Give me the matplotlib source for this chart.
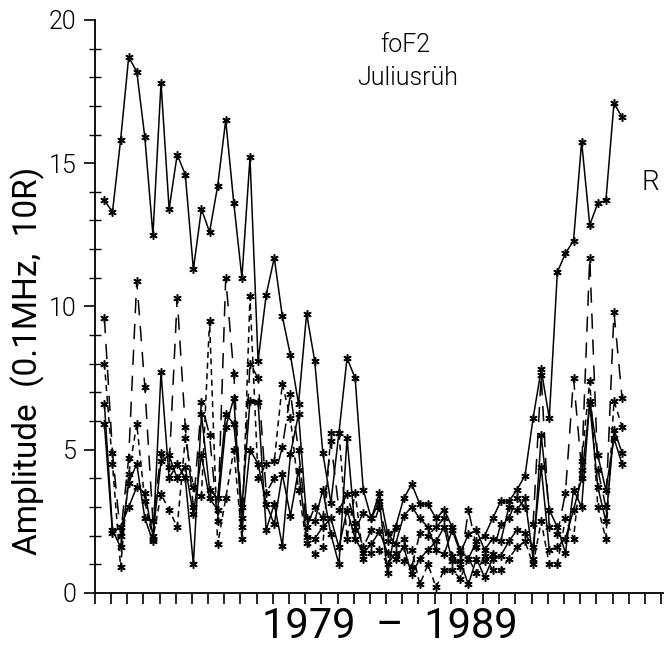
import numpy as np
import matplotlib
matplotlib.use('Agg')
import matplotlib.pyplot as plt

# sunspot number R (in units of 10R), every 2 months 1979-1989
r_vals = [13.7, 13.3, 15.8, 18.7, 18.2, 15.9, 12.5, 17.8, 13.4, 15.3, 14.6, 11.3, 13.4, 12.6, 14.2, 16.5,
          13.6, 11.0, 15.2, 8.1, 10.4, 11.7, 9.65, 8.3, 6.6, 9.75, 8.1, 4.9, 3.15, 5.6, 8.2, 7.5,
          3.6, 2.6, 3.2, 0.7, 2.3, 3.3, 3.8, 3.1, 3.1, 2.6, 2.9, 2.3, 1.5, 1.2, 1.8, 2.0,
          2.6, 3.2, 3.2, 3.6, 4.1, 6.1, 7.8, 6.1, 11.2, 11.85, 12.3, 15.75, 12.85, 13.6, 13.7, 17.1, 16.6]

# foF2 amplitudes (0.1 MHz)
amp_long = [9.6, 4.9, 2.0, 4.7, 10.9, 7.2, 2.5, 4.9, 4.4, 10.3, 5.8, 3.0, 6.65, 5.5, 2.5, 11.0,
            7.65, 2.6, 8.0, 7.5, 3.5, 4.0, 5.1, 6.95, 5.0, 2.3, 3.0, 2.6, 5.3, 2.9, 3.45, 2.45,
            1.6, 2.2, 3.0, 1.8, 2.3, 1.9, 0.9, 2.1, 2.0, 2.3, 2.6, 1.3, 0.9, 2.9, 1.6, 1.1,
            1.35, 2.4, 2.6, 3.3, 3.0, 2.4, 7.6, 2.3, 2.05, 3.5, 7.5, 4.3, 11.7, 4.3, 3.0, 9.8, 6.8]
amp_short = [8.0, 4.5, 0.9, 4.15, 5.9, 3.2, 1.9, 3.45, 2.9, 2.3, 5.4, 3.7, 3.4, 9.5, 1.7, 3.3,
             5.0, 1.9, 10.35, 4.0, 4.5, 4.6, 7.3, 6.1, 3.6, 1.75, 1.35, 1.6, 5.6, 5.6, 1.9, 3.5,
             1.2, 1.4, 1.5, 1.0, 1.4, 1.1, 1.5, 0.3, 1.0, 0.2, 0.8, 0.8, 0.5, 1.2, 0.7, 1.3,
             0.8, 0.8, 1.2, 1.6, 1.8, 1.0, 2.5, 1.0, 1.0, 2.6, 1.9, 4.6, 7.4, 3.0, 1.9, 6.7, 5.8]
amp_c = [6.6, 2.2, 1.6, 3.85, 4.5, 2.6, 1.8, 7.7, 4.0, 4.5, 4.0, 1.0, 6.25, 3.6, 3.3, 6.25,
         5.9, 3.0, 6.7, 6.65, 2.2, 3.1, 1.65, 4.85, 6.25, 2.6, 2.5, 3.6, 2.05, 1.0, 5.4, 2.2,
         2.8, 2.6, 3.5, 2.1, 1.7, 2.7, 3.0, 2.6, 2.3, 1.5, 1.35, 2.2, 1.4, 2.05, 2.2, 1.5,
         1.9, 1.8, 3.0, 2.9, 3.3, 1.2, 5.5, 2.9, 2.3, 1.4, 3.6, 3.0, 6.7, 4.8, 3.6, 5.4, 4.5]
amp_d = [5.9, 2.1, 2.3, 3.0, 3.7, 3.5, 2.0, 4.6, 4.8, 4.0, 4.4, 2.75, 4.8, 3.3, 2.9, 5.8,
         6.8, 2.3, 5.0, 4.5, 3.1, 2.4, 4.15, 2.7, 4.3, 1.95, 1.9, 2.3, 2.6, 1.6, 2.9, 1.9,
         1.4, 1.7, 2.15, 1.4, 1.2, 1.6, 0.65, 1.2, 1.5, 1.8, 2.3, 1.1, 1.1, 0.3, 1.2, 0.55,
         1.2, 1.3, 1.8, 2.2, 2.1, 1.6, 4.4, 1.5, 1.6, 1.9, 2.9, 4.0, 6.6, 3.7, 2.5, 5.7, 4.9]

x = np.arange(len(r_vals))

plt.rcParams['font.family'] = ['Roboto', 'DejaVu Sans']
plt.rcParams['font.weight'] = 300

fig = plt.figure(figsize=(6.68, 6.49), dpi=100)
ax = fig.add_axes([0.142, 0.0863, 0.851, 0.883])

star = (6, 2, 0)
common = dict(color='black', lw=1.1, marker=star, ms=6, mew=1.1)
ax.plot(x, amp_d, ls='-', **common)
ax.plot(x, amp_c, ls='-', **common)
ax.plot(x, amp_short, ls=(0, (4, 3)), **common)
ax.plot(x, amp_long, ls=(0, (10, 7)), **common)
ax.plot(x, r_vals, ls='-', **common)

ax.set_xlim(-1.18, 69.1)
ax.set_ylim(0, 20)
ax.spines['top'].set_visible(False)
ax.spines['right'].set_visible(False)
ax.spines['left'].set_linewidth(1.3)
ax.spines['bottom'].set_linewidth(1.3)

ax.set_xticks(np.arange(-1.18, 69.2, 2.0))
ax.set_xticklabels([])
ax.tick_params(axis='x', direction='out', length=8, width=1.2)

ax.set_yticks([0, 5, 10, 15, 20])
ax.set_yticks(np.arange(0, 20.5, 1), minor=True)
ax.tick_params(axis='y', which='major', direction='out', length=8, width=1.2,
               labelsize=18, pad=5)
ax.tick_params(axis='y', which='minor', direction='inout', length=9, width=1.0)

ax.set_ylabel('Amplitude  (0.1MHz,  10R)', fontsize=24, va='center')
ax.yaxis.set_label_coords(-0.118, 0.405)
ax.set_xlabel('1979  \u2013  1989', fontsize=30, va='center')
ax.xaxis.set_label_coords(0.518, -0.058)

ax.text(0.546, 0.956, 'foF2', transform=ax.transAxes, ha='center', va='center', fontsize=18)
ax.text(0.55, 0.899, 'Juliusrüh', transform=ax.transAxes, ha='center', va='center', fontsize=18)
ax.text(0.977, 0.716, 'R', transform=ax.transAxes, ha='center', va='center', fontsize=20)

fig.savefig('out.png', dpi=100)
